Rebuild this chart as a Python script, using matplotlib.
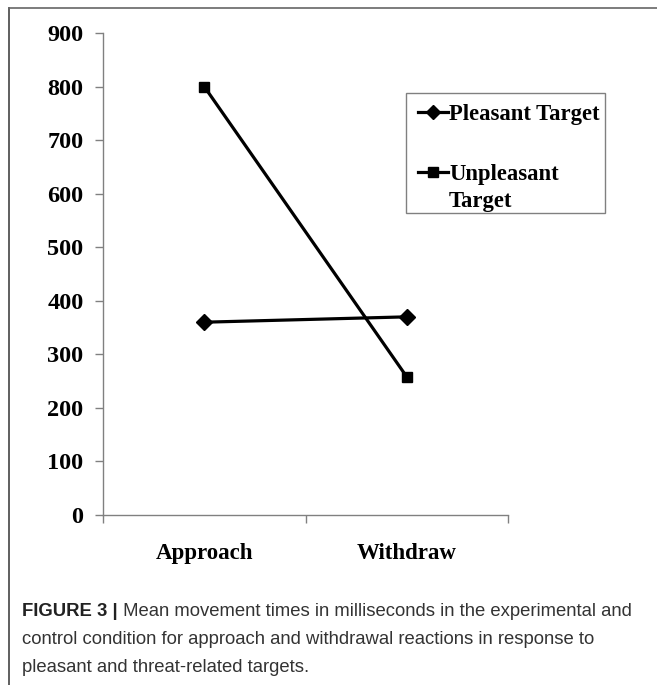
import matplotlib
matplotlib.use("Agg")
import matplotlib.pyplot as plt
from matplotlib.lines import Line2D
from matplotlib.patches import Rectangle

categories = ["Approach", "Withdraw"]
pleasant = [360, 370]
unpleasant = [800, 258]
yticks = [0, 100, 200, 300, 400, 500, 600, 700, 800, 900]
series_labels = ["Pleasant Target", "Unpleasant\nTarget"]
caption_bold = "FIGURE 3 |"
caption_rest_1 = " Mean movement times in milliseconds in the experimental and"
caption_line_2 = "control condition for approach and withdrawal reactions in response to"
caption_line_3 = "pleasant and threat-related targets."

W, H = 657, 685
fig = plt.figure(figsize=(W / 100, H / 100), dpi=100)

serif = ["Liberation Serif", "DejaVu Serif"]
sans = ["Liberation Sans", "DejaVu Sans"]

ax = fig.add_axes([103 / W, (H - 515) / H, (508 - 103) / W, (515 - 33) / H])
xpos = [0.5, 1.5]
styles = [dict(marker="D", markersize=8), dict(marker="s", markersize=7)]
for vals, st in zip([pleasant, unpleasant], styles):
    ax.plot(xpos, vals, color="black", lw=2.3, **st)

ax.set_xlim(0, 2)
ax.set_ylim(0, 900)
ax.set_yticks(yticks)
ax.set_yticklabels([str(v) for v in yticks], fontfamily=serif, fontweight="bold", fontsize=17.5)
ax.set_xticks([0, 1, 2])
ax.set_xticklabels([])
ax.set_xticks(xpos, minor=True)
ax.set_xticklabels(categories, minor=True, fontfamily=serif, fontweight="bold", fontsize=16.5)
ax.tick_params(axis="x", which="minor", length=0, pad=20)
ax.tick_params(axis="x", which="major", length=6, direction="out", color="#808080", width=1)
ax.tick_params(axis="y", length=6, direction="out", color="#808080", width=1, pad=8)
for s in ["top", "right"]:
    ax.spines[s].set_visible(False)
for s in ["left", "bottom"]:
    ax.spines[s].set_color("#808080")
    ax.spines[s].set_linewidth(1)

# legend (drawn manually to match the original layout)
def fx(px):
    return px / W

def fy(py):
    return (H - py) / H

fig.add_artist(Rectangle((fx(406), fy(213)), fx(605) - fx(406), fy(93) - fy(213),
                         transform=fig.transFigure, fill=False, edgecolor="#808080", lw=1))
entry_y = [112, 172]
for st, lab, ey in zip(styles, series_labels, entry_y):
    fig.add_artist(Line2D([fx(418), fx(448)], [fy(ey), fy(ey)], transform=fig.transFigure,
                          color="black", lw=2.3))
    fig.add_artist(Line2D([fx(433)], [fy(ey)], transform=fig.transFigure, color="black",
                          marker=st["marker"], markersize=st["markersize"] - 0.5, lw=0))
    fig.text(fx(449), fy(ey - 8), lab, fontfamily=serif, fontweight="bold", fontsize=16.3,
             va="top", ha="left", linespacing=1.4)

# outer frame
fig.add_artist(Line2D([8.5 / W, 8.5 / W], [0, (H - 8) / H], transform=fig.transFigure, color="#444444", lw=1.2))
fig.add_artist(Line2D([8.5 / W, 1], [(H - 8) / H, (H - 8) / H], transform=fig.transFigure, color="#666666", lw=1.2))

# caption
cx = 22 / W
fs = 13.3
t1 = fig.text(cx, fy(612), caption_bold, fontfamily=sans, fontweight="bold", fontsize=fs,
              va="center", ha="left", color="#222222")
fig.canvas.draw()
bb = t1.get_window_extent()
fig.text(bb.x1 / W, fy(612), caption_rest_1, fontfamily=sans, fontsize=fs, va="center", ha="left", color="#333333")
fig.text(cx, fy(640), caption_line_2, fontfamily=sans, fontsize=fs, va="center", ha="left", color="#333333")
fig.text(cx, fy(668), caption_line_3, fontfamily=sans, fontsize=fs, va="center", ha="left", color="#333333")

fig.savefig("out.png", dpi=100)
